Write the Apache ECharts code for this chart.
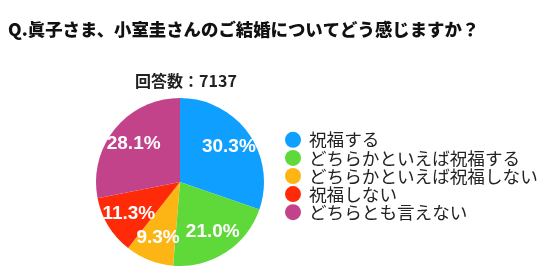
<!DOCTYPE html>
<html><head><meta charset="utf-8">
<script src="https://cdn.jsdelivr.net/npm/echarts@6/dist/echarts.min.js"></script>
<style>html,body{margin:0;padding:0;background:#fff}#c{width:547px;height:271px}</style>
</head><body><div id="c"></div>
<script>
const categories = ['祝福する','どちらかといえば祝福する','どちらかといえば祝福しない','祝福しない','どちらとも言えない'];
const values = [30.3, 21.0, 9.3, 11.3, 28.1];
const colors = ['#0fa0ff','#5fd83a','#fcb515','#ff2a08','#c2438a'];
const titleText = 'Q.眞子さま、小室圭さんのご結婚についてどう感じますか？';
const subText = '回答数：7137';
const font = '"Noto Sans CJK JP", sans-serif';
const data = categories.map((n,i)=>({name:n,value:values[i],itemStyle:{color:colors[i]}}));
const chart = echarts.init(document.getElementById('c'));
chart.setOption({
  animation:false,
  title:[
    {text:titleText,left:3,top:16,textStyle:{fontFamily:font,fontSize:17.4,fontWeight:900,color:'#111'}},
    {text:subText,left:181,textAlign:'center',top:68,textStyle:{fontFamily:font,fontSize:16,fontWeight:'bold',color:'#222'}}
  ],
  legend:{orient:'vertical',left:280,top:126,icon:'circle',itemWidth:16,itemHeight:16,itemGap:0.5,
    textStyle:{fontFamily:font,fontSize:17.6,lineHeight:16.5,color:'#222',padding:[0,0,0,3]},data:categories},
  series:[
    {type:'pie',center:[180,182],radius:[0,84],startAngle:90,clockwise:true,
     label:{show:false},labelLine:{show:false},data:data},
    {type:'pie',center:[180,182],radius:[0,114],startAngle:90,clockwise:true,silent:true,
     itemStyle:{color:'rgba(0,0,0,0)'},legendHoverLink:false,
     label:{show:true,position:'inner',formatter:p=>p.value.toFixed(1)+'%',color:'#fff',
       fontFamily:'"Liberation Sans", Arial, sans-serif',fontWeight:'bold',fontSize:19},
     labelLine:{show:false},
     data:values.map((v,i)=>({name:'lbl'+i,value:v,itemStyle:{color:'rgba(0,0,0,0)'}}))}
  ]
});
</script></body></html>
